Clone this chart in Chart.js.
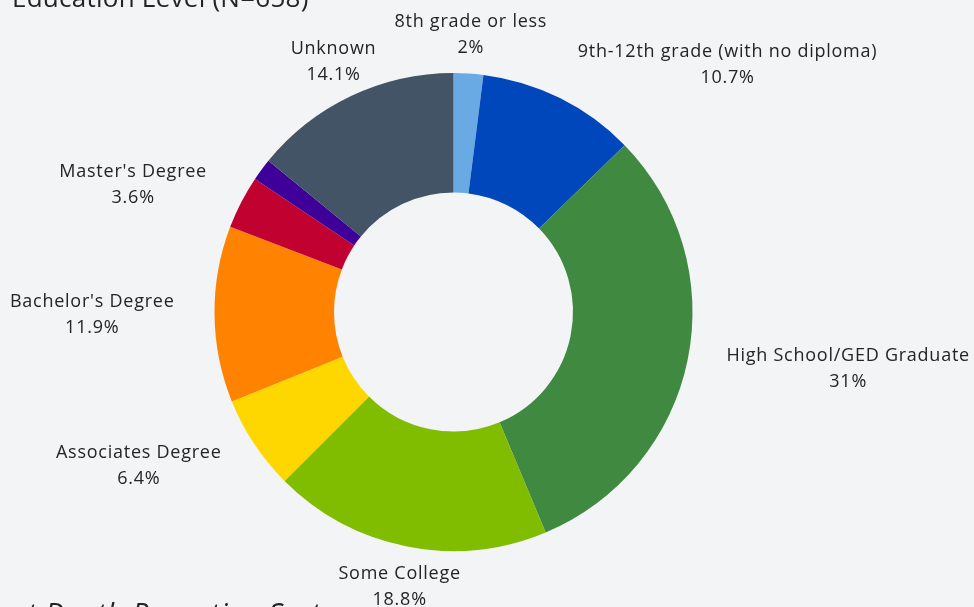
<!DOCTYPE html>
<html>
<head>
<meta charset="utf-8">
<script src="https://cdn.jsdelivr.net/npm/chart.js@4.4.0/dist/chart.umd.min.js"></script>
<style>
  html, body { margin: 0; padding: 0; background: #F3F4F6; }
  #wrap { position: relative; width: 974px; height: 607px; overflow: hidden; }
  canvas { display: block; }
</style>
</head>
<body>
<div id="wrap"><canvas id="c" width="974" height="607"></canvas></div>
<script>
// ---- data ----
const categories = [
  "8th grade or less",
  "9th-12th grade (with no diploma)",
  "High School/GED Graduate",
  "Some College",
  "Associates Degree",
  "Bachelor's Degree",
  "Master's Degree",
  "Doctorate or Professional Degree",
  "Unknown"
];
const percentages = [2, 10.7, 31, 18.8, 6.4, 11.9, 3.6, 1.5, 14.1];
const titleText = "Education Level (N=658)";
const footnoteText = "Violent Death Reporting System";

// ---- styling (kept apart from the data) ----
const sliceColors = ["#6AAAE4", "#0047BB", "#408940", "#80BC00", "#FFD700", "#FF8200", "#C10230", "#3F0099", "#425466"];
const labelFont = '18px "Open Sans", "Noto Sans", sans-serif';
const labelSpacing = '0.75px';
const labelColor = "#252423";
const labelLineHeight = 26;
const hiddenLabels = [7];
const labelNudges = [[-5, 7], [83, 8], [2, 0], [12, -5], [-13, -3], [0, 0], [-7, 4], [0, 0], [18, 7]];

const outsideLabels = {
  id: 'outsideLabels',
  afterDraw(chart) {
    const ctx = chart.ctx;
    const meta = chart.getDatasetMeta(0);
    const ds = chart.data.datasets[0];
    ctx.save();
    ctx.font = labelFont;
    ctx.letterSpacing = labelSpacing;
    ctx.fillStyle = labelColor;
    ctx.textAlign = 'center';
    ctx.textBaseline = 'middle';
    meta.data.forEach((arc, i) => {
      if (hiddenLabels.includes(i)) return;
      const p = arc.getProps(['x', 'y', 'startAngle', 'endAngle', 'outerRadius'], true);
      const mid = (p.startAngle + p.endAngle) / 2;
      const dx = Math.cos(mid), dy = Math.sin(mid);
      const lines = [chart.data.labels[i], ds.data[i] + '%'];
      const w = Math.max(...lines.map(t => ctx.measureText(t).width));
      const h = lines.length * labelLineHeight;
      const r = p.outerRadius + 20;
      const px = p.x + dx * r, py = p.y + dy * r;
      const cx = px + dx * (w / 2 + 20) + labelNudges[i][0];
      const cy = py + dy * (h / 2) + labelNudges[i][1];
      lines.forEach((t, k) => {
        ctx.fillText(t, cx, cy - h / 2 + labelLineHeight * (k + 0.5));
      });
    });
    ctx.restore();

    // title (partially cut at the top edge)
    ctx.save();
    ctx.font = '26px "Open Sans", "Noto Sans", sans-serif';
    ctx.letterSpacing = '0.25px';
    ctx.fillStyle = labelColor;
    ctx.textAlign = 'left';
    ctx.textBaseline = 'alphabetic';
    ctx.fillText(titleText, 12, 7);
    ctx.restore();

    // footnote (partially cut at bottom/left)
    ctx.save();
    ctx.beginPath();
    ctx.rect(0, 0, 333, chart.height);
    ctx.clip();
    ctx.font = 'italic 29px "Open Sans", "Noto Sans", sans-serif';
    ctx.letterSpacing = '0.5px';
    ctx.fillStyle = labelColor;
    ctx.textAlign = 'left';
    ctx.textBaseline = 'alphabetic';
    const off = ctx.measureText("Violent ").width;
    ctx.fillText(footnoteText, 45 - off, 624);
    ctx.restore();
  }
};

new Chart(document.getElementById('c'), {
  type: 'doughnut',
  data: {
    labels: categories,
    datasets: [{
      data: percentages,
      backgroundColor: sliceColors,
      borderWidth: 0,
      hoverOffset: 0
    }]
  },
  options: {
    responsive: false,
    animation: false,
    cutout: '50%',
    rotation: 0,
    layout: { padding: { left: 214.5, right: 281.5, top: 73, bottom: 56 } },
    plugins: {
      legend: { display: false },
      tooltip: { enabled: false },
      title: { display: false }
    }
  },
  plugins: [outsideLabels]
});
</script>
</body>
</html>
